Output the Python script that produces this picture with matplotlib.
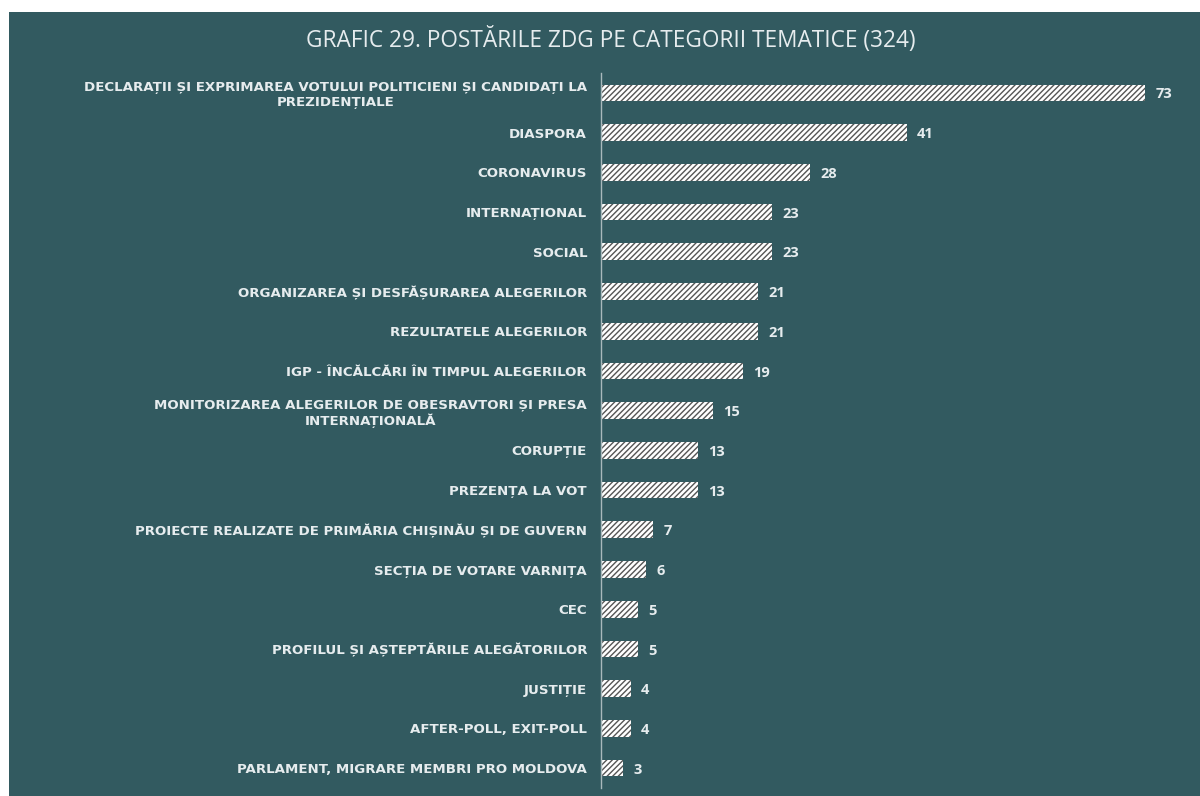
import matplotlib.pyplot as plt
from matplotlib.patches import Rectangle

categories = [
    "DECLARAȚII ȘI EXPRIMAREA VOTULUI POLITICIENI ȘI CANDIDAȚI LA\nPREZIDENȚIALE",
    "DIASPORA",
    "CORONAVIRUS",
    "INTERNAȚIONAL",
    "SOCIAL",
    "ORGANIZAREA ȘI DESFĂȘURAREA ALEGERILOR",
    "REZULTATELE ALEGERILOR",
    "IGP - ÎNCĂLCĂRI ÎN TIMPUL ALEGERILOR",
    "MONITORIZAREA ALEGERILOR DE OBESRAVTORI ȘI PRESA\nINTERNAȚIONALĂ",
    "CORUPȚIE",
    "PREZENȚA LA VOT",
    "PROIECTE REALIZATE DE PRIMĂRIA CHIȘINĂU ȘI DE GUVERN",
    "SECȚIA DE VOTARE VARNIȚA",
    "CEC",
    "PROFILUL ȘI AȘTEPTĂRILE ALEGĂTORILOR",
    "JUSTIȚIE",
    "AFTER-POLL, EXIT-POLL",
    "PARLAMENT, MIGRARE MEMBRI PRO MOLDOVA",
]
values = [73, 41, 28, 23, 23, 21, 21, 19, 15, 13, 13, 7, 6, 5, 5, 4, 4, 3]
title = "GRAFIC 29. POSTĂRILE ZDG PE CATEGORII TEMATICE (324)"

bg = "#325a60"
txt = "#e6ecee"

plt.rcParams["font.family"] = ["Open Sans", "DejaVu Sans"]
plt.rcParams["hatch.linewidth"] = 1.0

fig = plt.figure(figsize=(12, 7.96), dpi=100)
fig.patch.set_facecolor("white")
fig.patches.append(Rectangle((9 / 1200, 0), 1 - 9 / 1200, 1 - 12 / 796,
                             transform=fig.transFigure, facecolor=bg,
                             edgecolor="none", zorder=-10))

ax = fig.add_axes([601 / 1200, 8 / 796, 594 / 1200, 715 / 796])
ax.set_facecolor("none")

pos = list(range(len(values)))
ax.barh(pos, values, height=0.42, color="white", edgecolor="#555555",
        hatch="//////", linewidth=0)
for p, v in zip(pos, values):
    ax.text(v + 1.4, p + 0.04, str(v), va="center", ha="left", color=txt,
            fontsize=10.5, fontweight="bold")

ax.set_xlim(0, 79.7)
ax.set_ylim(len(values) - 0.5, -0.5)
ax.set_yticks(pos)
# wider face to get closer to the letter-spaced labels of the original
ax.set_yticklabels(categories, fontsize=9.6, fontweight="bold", color=txt,
                   family="DejaVu Sans", multialignment="center",
                   linespacing=1.2)
ax.tick_params(axis="y", length=0, pad=10)
ax.set_xticks([])
for s in ["top", "right", "bottom"]:
    ax.spines[s].set_visible(False)
ax.spines["left"].set_color("#a9b9bc")
ax.spines["left"].set_linewidth(1)

fig.text(611 / 1200, 1 - 40 / 796, title, ha="center", va="center",
         color=txt, fontsize=16.3)

plt.savefig("out.png", dpi=100, facecolor=fig.get_facecolor())
